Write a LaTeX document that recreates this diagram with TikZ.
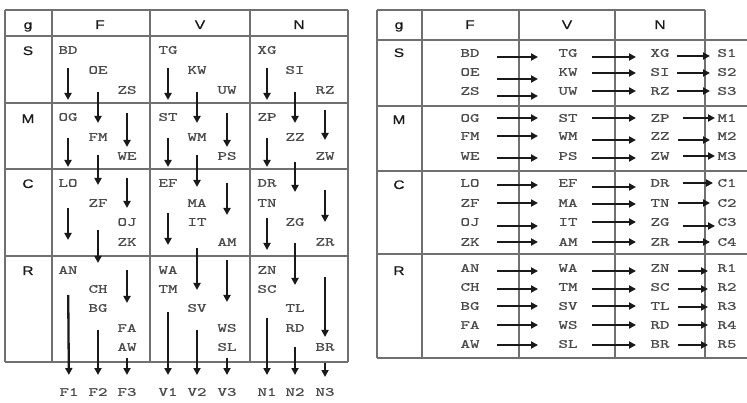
\documentclass[tikz,border=0pt]{standalone}
\usepackage{fontspec}
\usepackage{graphicx}
\usetikzlibrary{arrows.meta}
\newfontfamily\hdfont[FakeBold=0.6]{Liberation Sans}
\newfontfamily\labfont[FakeBold=0.7]{lmmono10-regular.otf}
\definecolor{gridc}{HTML}{707070}
\definecolor{labc}{HTML}{4A4A4A}
\definecolor{hdc}{HTML}{1A1A1A}
\newcommand\wl[1]{\scalebox{1.45}[1]{#1}}
\newcommand\wh[1]{\scalebox{1.25}[1]{#1}}
\newcommand\myva[4]{\draw[arr, shorten <=#3pt, shorten >=#4pt] (#1.center) -- (#2.center);}
\newcommand\myha[5]{\draw[arr, shorten <=#3pt, shorten >=#4pt] ([yshift=-#5pt]#1.center) -- ([yshift=-#5pt]#2.center);}
\tikzset{
  lab/.style={font=\labfont\fontsize{12.5}{12.5}\selectfont, text=labc, inner sep=0pt},
  hd/.style={font=\hdfont\fontsize{12.4}{12.5}\selectfont, text=hdc, inner sep=0pt, anchor=base},
  gridline/.style={draw=gridc, line width=1.4pt},
  arr/.style={line width=2.3pt, draw=black!90, -{Triangle[length=7pt,width=7pt]}},
}
\begin{document}
\begin{tikzpicture}[x=1pt,y=-1pt]
\useasboundingbox[fill=white] (0,0) rectangle (747,403);

% ---------- left table grid ----------
\foreach \x in {5,52,150,250,348} \draw[gridline] (\x,10) -- (\x,362);
\foreach \y in {10,36,103,169,256,362} \draw[gridline] (5,\y) -- (348,\y);

% ---------- right table grid ----------
\foreach \x in {377,422,519,615,705} \draw[gridline] (\x,10) -- (\x,358);
\draw[gridline] (377,10) -- (705,10);
\foreach \y in {40,106,171,254,358} \draw[gridline] (377,\y) -- (747,\y);

% ---------- headers ----------
\foreach \n/\x/\y/\t in {Lg/28/29/g, LF/100/29/F, LV/200/29/V, LN/299/29/N,
  LS/28/55/S, LM/28/123/M, LC/28/188/C, LR/28/275/R,
  Rg/399/29/g, RF/470/29/F, RV/567/29/V, RN/660/29/N,
  RS/399/57/S, RM/399/124/M, RC/399/189/C, RR/399/275/R}
  \node[hd] (h\n) at (\x,\y) {\wh{\t}};

% ---------- left table labels ----------
\foreach \n/\x/\y in {BD/68/50, OE/98/70, ZS/127/90, OG/68/117, FM/98/137, WE/127/156,
  LO/68/183, ZF/98/203, OJ/127/222, ZK/127/242, AN/68/270, CH/98/289, BG/98/308, FA/127/328, AW/127/347,
  TG/168/50, KW/197/70, UW/227/90, ST/168/117, WM/197/137, PS/227/156,
  EF/168/183, MA/197/203, IT/197/222, AM/227/242, WA/168/270, TM/168/289, SV/197/308, WS/227/328, SL/227/347,
  XG/267/50, SI/295/70, RZ/325/90, ZP/267/117, ZZ/295/137, ZW/325/156,
  DR/267/183, TN/267/203, ZG/295/222, ZR/325/242, ZN/267/270, SC/267/289, TL/295/308, RD/295/328, BR/325/347,
  F1/69/392, F2/98/392, F3/127/392, V1/168/392, V2/197/392, V3/227/392, N1/267/392, N2/295/392, N3/325/392}
  \node[lab] (L\n) at (\x,\y) {\wl{\n}};

% ---------- right table labels ----------
\foreach \a/\b/\c/\o/\y in {BD/TG/XG/S1/53, OE/KW/SI/S2/72, ZS/UW/RZ/S3/91,
  OG/ST/ZP/M1/118, FM/WM/ZZ/M2/136, WE/PS/ZW/M3/156,
  LO/EF/DR/C1/183, ZF/MA/TN/C2/203, OJ/IT/ZG/C3/222, ZK/AM/ZR/C4/242,
  AN/WA/ZN/R1/268, CH/TM/SC/R2/287, BG/SV/TL/R3/306, FA/WS/RD/R4/325, AW/SL/BR/R5/344}
{
  \node[lab] (R\a) at (470,\y) {\wl{\a}};
  \node[lab] (R\b) at (568,\y) {\wl{\b}};
  \node[lab] (R\c) at (660,\y) {\wl{\c}};
  \node[lab] (O\o) at (727,\y) {\wl{\o}};
}

% ---------- left table arrows ----------
\myva{LBD}{LOG}{18}{17}
\myva{LOG}{LLO}{21}{16}
\myva{LLO}{LAN}{25}{30}
\myva{LAN}{LF1}{25}{17}
\myva{LOE}{LFM}{22}{14}
\myva{LFM}{LZF}{18}{18}
\myva{LZF}{LCH}{27}{26}
\myva{LBG}{LF2}{22}{17}
\myva{LZS}{LWE}{23}{9}
\myva{LWE}{LOJ}{22}{14}
\myva{LZK}{LFA}{28}{25}
\myva{LAW}{LF3}{11}{17}
\myva{LTG}{LST}{18}{17}
\myva{LST}{LEF}{21}{16}
\myva{LEF}{LWA}{30}{25}
\myva{LTM}{LV1}{23}{17}
\myva{LKW}{LWM}{22}{14}
\myva{LWM}{LMA}{18}{16}
\myva{LIT}{LSV}{26}{18}
\myva{LSV}{LV2}{22}{17}
\myva{LUW}{LPS}{23}{9}
\myva{LPS}{LAM}{27}{27}
\myva{LAM}{LWS}{18}{26}
\myva{LSL}{LV3}{11}{17}
\myva{LXG}{LZP}{18}{17}
\myva{LZP}{LDR}{21}{16}
\myva{LTN}{LZN}{15}{20}
\myva{LSC}{LN1}{29}{17}
\myva{LSI}{LZZ}{22}{14}
\myva{LZZ}{LZG}{25}{30}
\myva{LZG}{LTL}{21}{23}
\myva{LRD}{LN2}{19}{17}
\myva{LRZ}{LZW}{20}{16}
\myva{LZW}{LZR}{34}{20}
\myva{LZR}{LBR}{35}{10}
\myva{LBR}{LN3}{16}{15}

% ---------- right table arrows ----------
% F -> V
\myha{RBD}{RTG}{27}{30}{4}
\myha{ROE}{RKW}{27}{30}{7}
\myha{RZS}{RUW}{27}{30}{5}
\myha{ROG}{RST}{27}{30}{0}
\myha{RFM}{RWM}{27}{30}{0}
\myha{RWE}{RPS}{27}{30}{2}
\myha{RLO}{REF}{27}{30}{2}
\myha{RZF}{RMA}{27}{30}{0}
\myha{ROJ}{RIT}{27}{30}{4}
\myha{RZK}{RAM}{27}{30}{0}
\myha{RAN}{RWA}{27}{30}{3}
\myha{RCH}{RTM}{27}{30}{2}
\myha{RBG}{RSV}{27}{30}{0}
\myha{RFA}{RWS}{27}{30}{0}
\myha{RAW}{RSL}{27}{30}{1}
% V -> N
\myha{RTG}{RXG}{24}{24}{4}
\myha{RKW}{RSI}{24}{24}{1}
\myha{RUW}{RRZ}{24}{24}{0}
\myha{RST}{RZP}{24}{24}{0}
\myha{RWM}{RZZ}{24}{24}{4}
\myha{RPS}{RZW}{24}{24}{2}
\myha{REF}{RDR}{24}{24}{4}
\myha{RMA}{RTN}{24}{24}{1}
\myha{RIT}{RZG}{24}{24}{0}
\myha{RAM}{RZR}{24}{24}{0}
\myha{RWA}{RZN}{24}{24}{3}
\myha{RTM}{RSC}{24}{24}{2}
\myha{RSV}{RTL}{24}{24}{0}
\myha{RWS}{RRD}{24}{24}{0}
\myha{RSL}{RBR}{24}{24}{1}
% N -> output
\myha{RXG}{OS1}{17}{17}{3}
\myha{RSI}{OS2}{17}{17}{1}
\myha{RRZ}{OS3}{17}{17}{0}
\myha{RZP}{OM1}{23}{12}{0}
\myha{RZZ}{OM2}{18}{17}{4}
\myha{RZW}{OM3}{23}{12}{0}
\myha{RDR}{OC1}{23}{14}{0}
\myha{RTN}{OC2}{18}{17}{0}
\myha{RZG}{OC3}{23}{12}{4}
\myha{RZR}{OC4}{18}{17}{0}
\myha{RZN}{OR1}{18}{19}{3}
\myha{RSC}{OR2}{18}{19}{2}
\myha{RTL}{OR3}{18}{19}{1}
\myha{RRD}{OR4}{18}{19}{0}
\myha{RBR}{OR5}{18}{19}{1}
\end{tikzpicture}
\end{document}
